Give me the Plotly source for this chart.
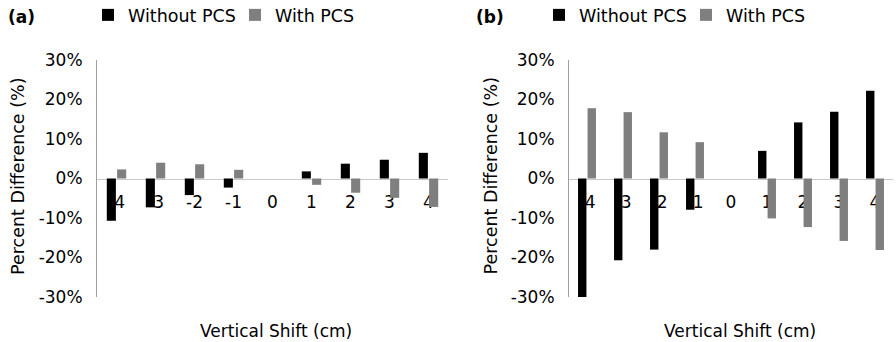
import plotly.graph_objects as go

# ---- data ----
shifts = ["-4", "-3", "-2", "-1", "0", "1", "2", "3", "4"]
a_without_pcs = [-10.7, -7.3, -4.2, -2.3, 0, 1.8, 3.75, 4.75, 6.5]
a_with_pcs = [2.3, 4.0, 3.6, 2.2, 0, -1.6, -3.6, -4.9, -7.2]
b_without_pcs = [-30.3, -20.7, -18.0, -7.9, 0, 7.0, 14.2, 16.9, 22.2]
b_with_pcs = [17.8, 16.8, 11.7, 9.2, 0, -10.1, -12.3, -15.8, -18.1]
y_tickvals = [-30, -20, -10, 0, 10, 20, 30]
y_ticktext = ["-30%", "-20%", "-10%", "0%", "10%", "20%", "30%"]
series_names = ["Without PCS", "With PCS"]
panel_labels = ["(a)", "(b)"]
x_title = "Vertical Shift (cm)"
y_title = "Percent Difference (%)"

BLACK = "#000000"
GRAY = "#7f7f7f"
FONT = "DejaVu Sans, sans-serif"
W, H = 896, 342

def px(v):
    return v / W

def py(v):
    return 1 - v / H

ydom = [py(297), py(60)]
ymid = (ydom[0] + ydom[1]) / 2

fig = go.Figure()
fig.add_trace(go.Bar(x=shifts, y=a_without_pcs, name=series_names[0], marker_color=BLACK,
                     marker_line_width=0, xaxis="x", yaxis="y", legend="legend"))
fig.add_trace(go.Bar(x=shifts, y=a_with_pcs, name=series_names[1], marker_color=GRAY,
                     marker_line_width=0, xaxis="x", yaxis="y", legend="legend"))
fig.add_trace(go.Bar(x=shifts, y=b_without_pcs, name=series_names[0], marker_color=BLACK,
                     marker_line_width=0, xaxis="x2", yaxis="y2", legend="legend2"))
fig.add_trace(go.Bar(x=shifts, y=b_with_pcs, name=series_names[1], marker_color=GRAY,
                     marker_line_width=0, xaxis="x2", yaxis="y2", legend="legend2"))

xcommon = dict(type="category", anchor="free", position=ymid, showline=True,
               linecolor="#c8c8c8", linewidth=1, ticks="", showgrid=False, zeroline=False,
               layer="below traces", tickfont=dict(size=17, color="#000", family=FONT),
               ticklabelstandoff=8)
ycommon = dict(range=[-30, 30], tickvals=y_tickvals, ticktext=y_ticktext, showline=True,
               linecolor="#a0a0a0", linewidth=1, ticks="", showgrid=False, zeroline=False,
               tickfont=dict(size=17, color="#000", family=FONT), ticklabelstandoff=10,
               domain=ydom)

legcommon = dict(orientation="h", yanchor="top", y=1 + 3 / H, xanchor="left",
                 entrywidth=102,
                 font=dict(size=17.5, color="#000", family=FONT), bgcolor="rgba(0,0,0,0)",
                 itemclick=False, itemdoubleclick=False)

fig.update_layout(
    width=W, height=H,
    margin=dict(l=0, r=0, t=0, b=0, autoexpand=False),
    paper_bgcolor="white", plot_bgcolor="white",
    font=dict(family=FONT, color="#000"),
    barmode="group", bargap=0.47, bargroupgap=0.12,
    xaxis=dict(domain=[px(97), px(448)], **xcommon),
    xaxis2=dict(domain=[px(569), px(893)], **xcommon),
    yaxis=dict(anchor="x", **ycommon),
    yaxis2=dict(anchor="x2", **ycommon),
    legend=dict(x=px(88), **legcommon),
    legend2=dict(x=px(539), **legcommon),
    showlegend=True,
)

ann = []
for lab, xc in zip(panel_labels, [21.5, 489.5]):
    ann.append(dict(text=f"<b>{lab}</b>", x=px(xc), y=py(17), xref="paper", yref="paper",
                    showarrow=False, xanchor="center", yanchor="middle",
                    font=dict(size=17, family=FONT, color="#000")))
for xc in [276, 740]:
    ann.append(dict(text=x_title, x=px(xc), y=py(331), xref="paper", yref="paper",
                    showarrow=False, xanchor="center", yanchor="middle",
                    font=dict(size=17, family=FONT, color="#000")))
for xc in [17.5, 490]:
    ann.append(dict(text=y_title, x=px(xc), y=py(176.5), xref="paper", yref="paper",
                    showarrow=False, xanchor="center", yanchor="middle", textangle=-90,
                    font=dict(size=17.5, family=FONT, color="#000")))
fig.update_layout(annotations=ann)

fig.write_html("out.html", config={"displayModeBar": False},
               post_script="document.body.style.margin='0';")
